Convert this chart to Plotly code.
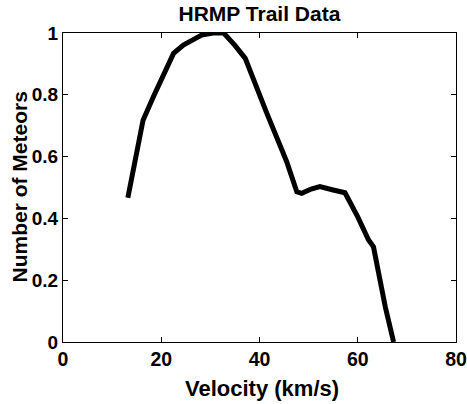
import plotly.graph_objects as go

velocity = [13.2, 16.3, 18.4, 22.5, 24.5, 28.2, 30.5, 32.7, 35.0, 37.1, 41.5, 45.5, 47.6, 48.6, 50.5, 52.3, 55.0, 57.4, 60.0, 62.2, 63.2, 65.6, 67.3]
meteors = [0.467, 0.718, 0.794, 0.934, 0.961, 0.993, 1.0, 1.0, 0.96, 0.918, 0.74, 0.585, 0.486, 0.481, 0.495, 0.503, 0.492, 0.483, 0.405, 0.33, 0.308, 0.114, 0.0]

x_ticks = [0, 20, 40, 60, 80]
y_ticks = [0, 0.2, 0.4, 0.6, 0.8, 1]
y_tick_labels = ["0", "0.2", "0.4", "0.6", "0.8", "1"]

fig = go.Figure()
fig.add_trace(go.Scatter(x=velocity, y=meteors, mode="lines",
                         line=dict(color="black", width=5), showlegend=False))

font_family = "Liberation Sans, Arial, sans-serif"
L, R, T, B = 63, 11, 33, 62
W, H = 467, 404
pw, ph = W - L - R, H - T - B

fig.update_layout(
    width=W, height=H,
    margin=dict(l=L, r=R, t=T, b=B),
    paper_bgcolor="white", plot_bgcolor="white",
    title=dict(text="<b>HRMP Trail Data</b>", x=0.5555, xanchor="center", y=0.965, yanchor="middle",
               font=dict(family=font_family, size=21, color="black")),
    font=dict(family=font_family, color="black"),
    annotations=[
        dict(text="<b>Velocity (km/s)</b>", xref="paper", yref="paper",
             x=(262 - L) / pw, y=-(388 - (H - B)) / ph, xanchor="center", yanchor="middle",
             showarrow=False, font=dict(size=22, family=font_family, color="black")),
        dict(text="<b>Number of Meteors</b>", xref="paper", yref="paper", textangle=-90,
             x=(19 - L) / pw, y=0.5, xanchor="center", yanchor="middle",
             showarrow=False, font=dict(size=21, family=font_family, color="black")),
    ],
)
fig.update_xaxes(range=[0, 80], tickvals=x_ticks, ticktext=[f"<b>{v}</b>" for v in x_ticks],
                 ticks="inside", ticklen=5, tickcolor="black", showline=True, linecolor="black",
                 linewidth=1, mirror="ticks", showgrid=False, zeroline=False, automargin=False,
                 ticklabeloverflow="allow",
                 tickfont=dict(size=19.5, family=font_family))
fig.update_yaxes(range=[0, 1], tickvals=y_ticks, ticktext=[f"<b>{t}</b>" for t in y_tick_labels],
                 ticks="inside", ticklen=5, tickcolor="black", showline=True, linecolor="black",
                 linewidth=1, mirror="ticks", showgrid=False, zeroline=False, automargin=False,
                 ticklabeloverflow="allow",
                 tickfont=dict(size=19, family=font_family))

fig.write_html("out.html")
